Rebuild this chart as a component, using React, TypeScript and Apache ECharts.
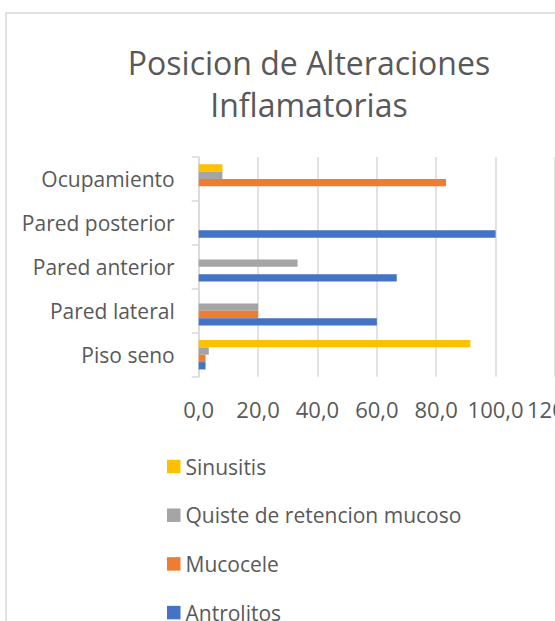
import React, { useEffect, useRef } from 'react';
import * as echarts from 'echarts';

const categories = ['Piso seno', 'Pared lateral', 'Pared anterior', 'Pared posterior', 'Ocupamiento'];
const antrolitos = [2.3, 60.0, 66.7, 100.0, 0];
const mucocele = [2.3, 20.0, 0, 0, 83.3];
const quiste = [3.4, 20.0, 33.3, 0, 8.0];
const sinusitis = [91.5, 0, 0, 0, 8.0];
const legendOrder = ['Sinusitis', 'Quiste de retencion mucoso', 'Mucocele', 'Antrolitos'];
const titleLines = ['Posicion de Alteraciones', 'Inflamatorias'];

const FONT = 'Open Sans';
const TEXT = '#595959';

export default function App() {
  const ref = useRef<HTMLDivElement>(null);
  useEffect(() => {
    if (!ref.current) return;
    const chart = echarts.init(ref.current, null, { renderer: 'svg' });
    const bar = (name: string, data: number[], color: string) => ({
      name,
      type: 'bar',
      data,
      barGap: '0%',
      barCategoryGap: '33%',
      itemStyle: { color },
    });
    chart.setOption({
      animation: false,
      backgroundColor: '#ffffff',
      textStyle: { fontFamily: FONT },
      graphic: [
        {
          type: 'rect',
          shape: { x: 6, y: 13, width: 700, height: 800 },
          style: { fill: 'none', stroke: '#d9d9d9', lineWidth: 1.5 },
          silent: true,
        },
        {
          type: 'text',
          x: 309,
          y: 41.5,
          style: {
            text: titleLines.join('\n'),
            fontFamily: FONT,
            fontSize: 32,
            lineHeight: 42,
            fill: TEXT,
            align: 'center',
            verticalAlign: 'top',
          },
        },
      ],
      grid: { left: 198.7, right: 0, top: 157, bottom: 244.3, containLabel: false, outerBoundsMode: 'none' },
      legend: {
        orient: 'vertical',
        left: 167,
        top: 456,
        padding: 0,
        height: 200,
        data: legendOrder,
        icon: 'rect',
        itemWidth: 13.5,
        itemHeight: 13.5,
        itemGap: 27.7,
        textStyle: { color: TEXT, fontSize: 21, lineHeight: 20, fontFamily: FONT },
      },
      xAxis: {
        type: 'value',
        min: 0,
        max: 120,
        interval: 20,
        axisLine: { show: false },
        axisTick: { show: false },
        splitLine: { lineStyle: { color: '#d9d9d9', width: 1.5 } },
        axisLabel: {
          color: TEXT,
          fontSize: 22,
          fontFamily: FONT,
          margin: 21,
          hideOverlap: false,
          formatter: (v: number) => v.toFixed(1).replace('.', ','),
        },
      },
      yAxis: {
        type: 'category',
        data: categories,
        axisLine: { show: true, lineStyle: { color: '#d9d9d9', width: 1.5 } },
        axisTick: { show: true, length: 7, lineStyle: { color: '#d9d9d9', width: 1.5 } },
        axisLabel: { color: TEXT, fontSize: 21, fontFamily: FONT, margin: 24 },
      },
      series: [
        bar('Sinusitis', sinusitis, '#FFC000'),
        bar('Quiste de retencion mucoso', quiste, '#A5A5A5'),
        bar('Mucocele', mucocele, '#ED7D31'),
        bar('Antrolitos', antrolitos, '#4472C4'),
      ],
    });
    return () => chart.dispose();
  }, []);
  return (
    <div
      ref={ref}
      style={{ position: 'fixed', left: 0, top: 0, width: 555, height: 621 }}
    />
  );
}
